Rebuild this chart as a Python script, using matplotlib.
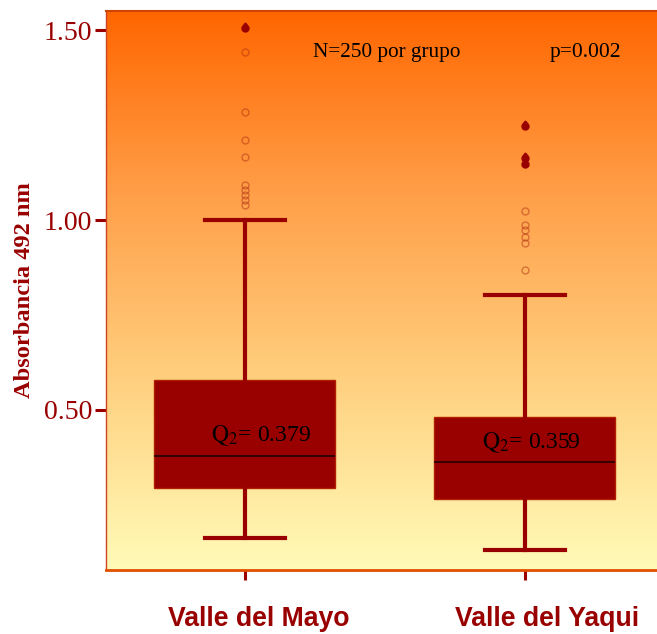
"""Boxplot of absorbance at 492 nm for two valleys, with gradient background."""

import matplotlib.pyplot as plt
import matplotlib.transforms as mtransforms
import numpy as np
from matplotlib.colors import LinearSegmentedColormap
from matplotlib.path import Path

plt.rcParams["font.family"] = ["Liberation Serif", "DejaVu Serif"]
plt.rcParams["mathtext.fontset"] = "stix"

# --- data ---
groups = ["Valle del Mayo", "Valle del Yaqui"]
q1 = [0.295, 0.265]
median = [0.379, 0.362]
q3 = [0.580, 0.482]
whisker_low = [0.163, 0.132]
whisker_high = [1.000, 0.803]
median_labels = ["0.379", "0.359"]

# extreme outliers (filled drops) and mild outliers (faded marks)
extreme_mayo = [1.505]
extreme_yaqui = [1.247, 1.163, 1.147]
mild_mayo = [1.442, 1.284, 1.210, 1.166, 1.092, 1.079, 1.066, 1.053, 1.039]
mild_yaqui = [1.024, 0.987, 0.974, 0.955, 0.939, 0.868]

y_ticks = [0.50, 1.00, 1.50]
y_tick_labels = ["0.50", "1.00", "1.50"]

DARK_RED = "#990000"

fig = plt.figure(figsize=(6.57, 6.34), dpi=100)
ax = fig.add_axes([0.1613, 0.101, 0.8387, 0.8816])

# gradient background, orange at the top fading to pale yellow
cmap = LinearSegmentedColormap.from_list(
    "bg", ["#fffbb8", "#ffd180", "#ffa04a", "#ff6600"]
)
gradient = np.linspace(0, 1, 256).reshape(-1, 1)
ax.imshow(
    gradient,
    cmap=cmap,
    aspect="auto",
    origin="lower",
    extent=(0, 1, 0, 1),
    transform=ax.transAxes,
    zorder=0,
)

stats = []
for i in range(len(groups)):
    stats.append(
        {
            "label": groups[i],
            "q1": q1[i],
            "med": median[i],
            "q3": q3[i],
            "whislo": whisker_low[i],
            "whishi": whisker_high[i],
            "fliers": [],
        }
    )

ax.bxp(
    stats,
    positions=[1, 2],
    widths=0.646,
    capwidths=0.286,
    patch_artist=True,
    showfliers=False,
    boxprops={"facecolor": DARK_RED, "edgecolor": "#b02000", "linewidth": 1.0},
    whiskerprops={"color": DARK_RED, "linewidth": 3.0},
    capprops={"color": DARK_RED, "linewidth": 3.0},
    medianprops={"color": "#220000", "linewidth": 1.2},
    zorder=3,
)

# teardrop marker for the extreme outliers
theta = np.linspace(-np.pi * 0.25, np.pi * 1.25, 30)
drop_verts = [(0.0, 1.6)] + [(np.cos(t), -np.sin(t)) for t in theta] + [(0.0, 1.6)]
drop = Path(drop_verts)

for pos, mild, extreme in [(1, mild_mayo, extreme_mayo), (2, mild_yaqui, extreme_yaqui)]:
    ax.plot(
        [pos] * len(mild),
        mild,
        linestyle="none",
        marker="o",
        markersize=5,
        markerfacecolor="none",
        markeredgecolor="#b03010",
        markeredgewidth=1.0,
        alpha=0.5,
        zorder=4,
    )
    ax.plot(
        [pos] * len(extreme),
        extreme,
        linestyle="none",
        marker=drop,
        markersize=8,
        color=DARK_RED,
        zorder=4,
    )

# median annotations
ax.text(1.06, median[0] + 0.022, r"$\mathrm{Q}_2$= " + median_labels[0],
        ha="center", va="bottom", fontsize=17, color="black", zorder=5)
ax.text(2.025, median[1] + 0.02, r"$\mathrm{Q}_2$= " + median_labels[1],
        ha="center", va="bottom", fontsize=17, color="black", zorder=5)

ax.text(0.375, 0.925, "N=250 por grupo", transform=ax.transAxes,
        ha="left", va="center", fontsize=15.3)
ax.text(0.806, 0.925, "p=0.002", transform=ax.transAxes,
        ha="left", va="center", fontsize=15.5)

ax.set_xlim(0.505, 2.473)
ax.set_ylim(0.079, 1.55)

ax.set_yticks(y_ticks)
ax.set_yticklabels(y_tick_labels, fontsize=20, color=DARK_RED)
ax.set_xticks([1, 2])
ax.set_xticklabels(groups, family="Liberation Sans", fontweight="bold",
                   fontsize=19.2, color=DARK_RED)
ax.tick_params(axis="y", direction="out", length=8, width=2.2, color=DARK_RED, pad=2)
ax.tick_params(axis="x", direction="out", length=7, width=2.2, color=DARK_RED, pad=19)

# the category labels sit a little right of their ticks in the original
for label, shift in zip(ax.get_xticklabels(), [0.14, 0.22]):
    offset = mtransforms.ScaledTranslation(shift, 0, fig.dpi_scale_trans)
    label.set_transform(label.get_transform() + offset)

ax.set_ylabel("Absorbancia 492 nm", fontweight="bold",
              fontsize=17.6, color=DARK_RED, labelpad=6)

ax.spines["top"].set_color("#cc4400")
ax.spines["top"].set_linewidth(1.5)
ax.spines["left"].set_color("#cc4422")
ax.spines["left"].set_linewidth(1.0)
ax.spines["bottom"].set_color("#e05000")
ax.spines["bottom"].set_linewidth(2.0)
ax.spines["right"].set_visible(False)

fig.savefig("out.png", dpi=100)
